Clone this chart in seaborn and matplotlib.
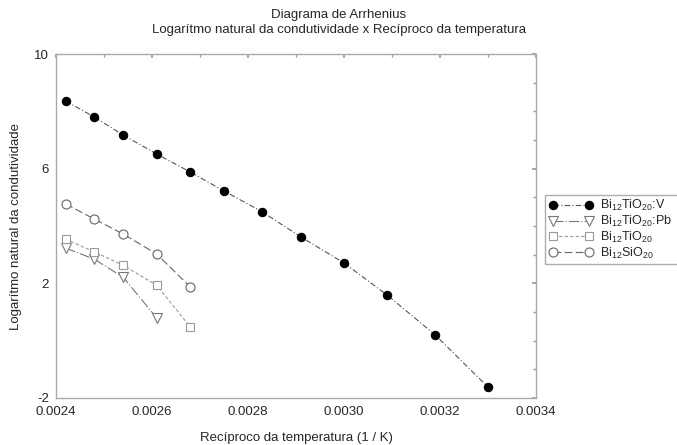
import matplotlib
matplotlib.use("Agg")
import matplotlib.pyplot as plt
import seaborn as sns
import pandas as pd
from matplotlib.ticker import MultipleLocator, FixedLocator, FormatStrFormatter

sns.set_theme(style="white")
plt.rcParams['font.family'] = ['Liberation Sans', 'DejaVu Sans']
plt.rcParams['mathtext.fontset'] = 'custom'
plt.rcParams['mathtext.rm'] = 'Liberation Sans'
plt.rcParams['mathtext.it'] = 'Liberation Sans'

# Data
x_v = [0.00242, 0.00248, 0.00254, 0.00261, 0.00268, 0.00275, 0.00283,
       0.00291, 0.00300, 0.00309, 0.00319, 0.00330]
y_v = [8.36, 7.80, 7.17, 6.51, 5.88, 5.22, 4.49, 3.62, 2.71, 1.59, 0.20, -1.62]

x_pb = [0.00242, 0.00248, 0.00254, 0.00261]
y_pb = [3.23, 2.84, 2.21, 0.79]

x_ti = [0.00242, 0.00248, 0.00254, 0.00261, 0.00268]
y_ti = [3.54, 3.10, 2.63, 1.93, 0.47]

x_si = [0.00242, 0.00248, 0.00254, 0.00261, 0.00268]
y_si = [4.77, 4.24, 3.72, 3.02, 1.87]

y_ticks = [-2, 2, 6, 10]

labels = [r'Bi$_{12}$TiO$_{20}$:V', r'Bi$_{12}$TiO$_{20}$:Pb',
          r'Bi$_{12}$TiO$_{20}$', r'Bi$_{12}$SiO$_{20}$']

fig = plt.figure(figsize=(6.77, 4.45), dpi=100)
ax = fig.add_axes([56/677, 47/445, 480/677, 344/445])

series = [
    (x_v, y_v, dict(color='#555555', linestyle=(0, (5, 2, 1, 2)), marker='o',
                    markerfacecolor='black', markeredgecolor='black', markersize=6)),
    (x_pb, y_pb, dict(color='#777777', linestyle=(0, (9, 2, 1, 2)), marker='v',
                      markerfacecolor='white', markeredgecolor='#777777', markersize=6.5)),
    (x_ti, y_ti, dict(color='#999999', linestyle=(0, (3, 2)), marker='s',
                      markerfacecolor='white', markeredgecolor='#999999', markersize=6)),
    (x_si, y_si, dict(color='#666666', linestyle=(0, (7, 3)), marker='o',
                      markerfacecolor='white', markeredgecolor='#666666', markersize=6.5)),
]
for (xs, ys, st), lab in zip(series, labels):
    df = pd.DataFrame({'x': xs, 'y': ys})
    sns.lineplot(data=df, x='x', y='y', ax=ax, sort=False, label=lab,
                 linewidth=0.8, markeredgewidth=0.8, **st)

ax.set_xlim(0.0024, 0.0034)
ax.set_ylim(-2, 10)
ax.xaxis.set_major_locator(MultipleLocator(0.0002))
ax.xaxis.set_minor_locator(MultipleLocator(0.0001))
ax.yaxis.set_major_locator(FixedLocator(y_ticks))
ax.yaxis.set_minor_locator(MultipleLocator(1))
ax.xaxis.set_major_formatter(FormatStrFormatter('%.4f'))
ax.yaxis.set_major_formatter(FormatStrFormatter('%d'))
ax.tick_params(which='both', direction='in', top=True, right=True,
               color='#999999', labelsize=9.5)
ax.tick_params(axis='x', pad=6)
ax.tick_params(axis='y', pad=5)
ax.tick_params(which='major', length=3)
ax.tick_params(which='minor', length=2)
for s in ax.spines.values():
    s.set_color('#aaaaaa')
    s.set_linewidth(1.0)

ax.set_xlabel('Recíproco da temperatura (1 / K)', fontsize=9.5, labelpad=10)
ax.set_ylabel('Logarítmo natural da condutividade', fontsize=9.5, labelpad=9)

fig.text(0.5, 1 - 15/445, 'Diagrama de Arrhenius', ha='center', va='center', fontsize=9.5)
fig.text(0.5, 1 - 30/445, 'Logarítmo natural da condutividade x Recíproco da temperatura',
         ha='center', va='center', fontsize=9.5)

leg = ax.legend(loc='center left', bbox_to_anchor=(545/677, 183/445, 0.3, 65/445),
                bbox_transform=fig.transFigure, mode='expand', fontsize=9,
                handlelength=3.5, handletextpad=0.6, frameon=True, fancybox=False,
                borderpad=0.3, labelspacing=0.05, numpoints=2, borderaxespad=0)
leg.get_frame().set_edgecolor('#999999')
leg.get_frame().set_linewidth(1.0)

fig.savefig('out.png', dpi=100)
